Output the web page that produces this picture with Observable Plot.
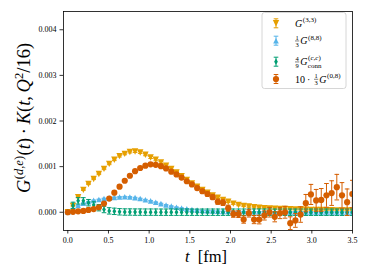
<!DOCTYPE html>
<html><head><meta charset="utf-8">
<script src="https://cdn.jsdelivr.net/npm/d3@7"></script>
<script src="https://cdn.jsdelivr.net/npm/@observablehq/plot@0.6"></script>
<style>
body{margin:0;background:#fff;}
#chart{position:relative;width:369px;height:277px;}
</style></head><body><div id="chart"></div>
<script>
// Euclidean time t [fm]
const t = [0,0.064,0.127,0.191,0.254,0.318,0.382,0.445,0.509,0.572,0.636,0.700,0.763,0.827,0.890,0.954,1.018,1.081,1.145,1.208,1.272,1.336,1.399,1.463,1.526,1.590,1.654,1.717,1.781,1.844,1.908,1.972,2.035,2.099,2.162,2.226,2.290,2.353,2.417,2.480,2.544,2.608,2.671,2.735,2.798,2.862,2.926,2.989,3.053,3.116,3.180,3.244,3.307,3.371,3.434,3.498];
// values in units of 1e-3
const unit = 1e-3;
const g33 = [0.00,0.14,0.33,0.49,0.62,0.73,0.84,0.95,1.06,1.15, 1.23,1.28,1.32,1.33,1.31,1.26,1.20,1.15,1.09,1.02, 0.95,0.87,0.79,0.71,0.63,0.56,0.49,0.43,0.37,0.32, 0.27,0.23,0.19,0.16,0.14,0.125,0.11,0.10,0.09,0.085, 0.08,0.075,0.07,0.065,0.06,0.06,0.055,0.05,0.05,0.05, 0.045,0.045,0.04,0.04,0.04,0.04];
const g33Err = [0,0.01,0.01,0.012,0.013,0.014,0.015,0.016,0.017,0.018, 0.019,0.02,0.02,0.02,0.021,0.021,0.022,0.022,0.022,0.022, 0.022,0.022,0.022,0.021,0.021,0.02,0.02,0.02,0.019,0.019, 0.018,0.018,0.017,0.017,0.016,0.016,0.015,0.015,0.015,0.014, 0.014,0.014,0.013,0.013,0.013,0.012,0.012,0.012,0.012,0.011, 0.011,0.011,0.011,0.01,0.01,0.01];
const g88 = [0.00,0.08,0.15,0.20,0.23,0.26,0.28,0.30,0.31,0.325, 0.335,0.34,0.335,0.32,0.30,0.275,0.25,0.22,0.19,0.16, 0.135,0.11,0.09,0.075,0.06,0.05,0.04,0.035,0.03,0.025, 0.02,0.02,0.015,0.015,0.015,0.01,0.01,0.01,0.01,0.01, 0.008,0.008,0.008,0.007,0.007,0.007,0.006,0.006,0.006,0.006, 0.005,0.005,0.005,0.005,0.005,0.005];
const g88Err = [0,0.008,0.008,0.008,0.008,0.008,0.008,0.008,0.008,0.008, 0.008,0.008,0.008,0.008,0.008,0.008,0.008,0.008,0.008,0.008, 0.007,0.007,0.007,0.007,0.007,0.007,0.006,0.006,0.006,0.006, 0.006,0.006,0.006,0.006,0.006,0.006,0.006,0.006,0.006,0.006, 0.006,0.006,0.006,0.006,0.006,0.006,0.006,0.006,0.006,0.006, 0.006,0.006,0.006,0.006,0.006,0.006];
const gcc = [0.00,0.15,0.25,0.25,0.21,0.16,0.10,0.06,0.03,0.02, 0.01,0.005,0.005,0.003,0.003,0.002,0.002,0.002,0.001,0.001, 0.001,0.001,0.001,0.001,0.001,0.001,0.001,0.001,0.001,0.001, 0.001,0.001,0.001,0.001,0.001,0.001,0.001,0.001,0.001,0.001, 0,0,0,0,0,0,0,0,0,0, 0,0,0,0,0,0];
const gccErr = [0,0.07,0.07,0.07,0.07,0.07,0.07,0.07,0.07,0.07, 0.07,0.07,0.07,0.07,0.07,0.07,0.07,0.07,0.07,0.07, 0.07,0.07,0.07,0.07,0.07,0.07,0.07,0.07,0.07,0.07, 0.07,0.07,0.07,0.07,0.07,0.07,0.07,0.07,0.07,0.07, 0.07,0.07,0.07,0.07,0.07,0.07,0.07,0.07,0.07,0.07, 0.07,0.07,0.07,0.07,0.07,0.07];
const g08 = [0.00,0.01,0.02,0.03,0.05,0.07,0.11,0.19,0.30,0.43, 0.56,0.69,0.80,0.90,0.97,1.02,1.05,1.04,1.01,0.96, 0.89,0.83,0.76,0.68,0.61,0.53,0.46,0.40,0.33,0.23, 0.21,0.09,-0.04,-0.04,-0.16,-0.02,-0.16,-0.16,-0.07,0.00, -0.10,-0.02,0.00,-0.24,-0.18,-0.05,0.20,0.39,0.26,0.27, 0.37,0.42,0.55,0.37,0.22,0.40];
const g08Err = [0.003,0.004,0.005,0.006,0.007,0.008,0.009,0.010,0.012,0.013, 0.015,0.016,0.018,0.020,0.021,0.022,0.024,0.025,0.027,0.028, 0.030,0.032,0.034,0.036,0.038,0.040,0.043,0.046,0.050,0.055, 0.060,0.065,0.070,0.075,0.080,0.085,0.090,0.095,0.100,0.105, 0.110,0.120,0.130,0.140,0.150,0.170,0.190,0.220,0.240,0.250, 0.260,0.270,0.280,0.280,0.290,0.300];

const xTicks = [0,0.5,1,1.5,2,2.5,3,3.5];
const yTicks = [0,0.001,0.002,0.003,0.004];

// marker shapes
const rad = s => Math.sqrt(s / Math.PI);
const triDown = {draw(c, s){const r = rad(s); c.moveTo(-r,-r); c.lineTo(r,-r); c.lineTo(0,r); c.closePath();}};
const triUp = {draw(c, s){const r = rad(s); c.moveTo(-r,r); c.lineTo(r,r); c.lineTo(0,-r); c.closePath();}};
const thinDiamond = {draw(c, s){const r = rad(s); c.moveTo(0,-r); c.lineTo(0.6*r,0); c.lineTo(0,r); c.lineTo(-0.6*r,0); c.closePath();}};
const circle = {draw(c, s){const r = rad(s); c.moveTo(r,0); c.arc(0,0,r,0,2*Math.PI);}};
const cap = {draw(c, s){const r = rad(s); c.moveTo(-r,0); c.lineTo(r,0);}};

const series = [
  {val: g33, err: g33Err, color: "#E69F00", symbol: triDown, r: 3.2},
  {val: g88, err: g88Err, color: "#56B4E9", symbol: triUp, r: 2.8},
  {val: gcc, err: gccErr, color: "#009E73", symbol: thinDiamond, r: 3.1},
  {val: g08, err: g08Err, color: "#D55E00", symbol: circle, r: 3.1}
];

const marks = [];
for (const s of series) {
  const rows = t.map((ti, i) => ({t: ti, v: s.val[i]*unit, lo: (s.val[i]-s.err[i])*unit, hi: (s.val[i]+s.err[i])*unit}));
  marks.push(Plot.ruleX(rows, {x: "t", y1: "lo", y2: "hi", stroke: s.color, strokeWidth: 1, clip: "frame"}));
  marks.push(Plot.dot(rows, {x: "t", y: "lo", symbol: cap, r: 2.3, stroke: s.color, strokeWidth: 1, fill: "none", clip: "frame"}));
  marks.push(Plot.dot(rows, {x: "t", y: "hi", symbol: cap, r: 2.3, stroke: s.color, strokeWidth: 1, fill: "none", clip: "frame"}));
  marks.push(Plot.dot(rows, {x: "t", y: "v", symbol: s.symbol, r: s.r, fill: s.color, stroke: "none", clip: "frame"}));
}

const FONT = "'Liberation Serif', 'DejaVu Serif', serif";
const plot = Plot.plot({
  width: 369, height: 277,
  marginLeft: 63, marginRight: 17, marginTop: 11, marginBottom: 47,
  style: {fontFamily: FONT, fontSize: "8px", background: "white", color: "black"},
  x: {domain: [-0.053, 3.5], label: null},
  y: {domain: [-0.0004, 0.0044], label: null},
  marks: [
    ...marks,
    Plot.frame({stroke: "black", strokeWidth: 0.8}),
    Plot.axisX({ticks: xTicks, tickFormat: d3.format(".1f"), tickSize: 3.5, tickPadding: 3, label: null, strokeWidth: 0.8}),
    Plot.axisY({ticks: yTicks, tickFormat: d3.format(".3f"), tickSize: 3.5, tickPadding: 3.5, label: null, strokeWidth: 0.8})
  ]
});
document.getElementById("chart").appendChild(plot);
const svg = d3.select(plot);

// text built from tspans: pieces {text, it, size, dy, dx}
function rich(parent, x, y, pieces, size, anchor) {
  const el = parent.append("text").attr("x", x).attr("y", y).attr("font-size", size)
    .attr("font-family", FONT).attr("fill", "black").attr("text-anchor", anchor || "start");
  for (const p of pieces) {
    const ts = el.append("tspan").text(p.text);
    if (p.it) ts.attr("font-style", "italic");
    if (p.size) ts.attr("font-size", p.size);
    if (p.dy) ts.attr("dy", p.dy);
    if (p.dx) ts.attr("dx", p.dx);
  }
  return el;
}
function frac(parent, x, y, num, den, fs) {
  const w = fs*0.5 + 1;
  parent.append("text").attr("x", x + w/2).attr("y", y - fs*0.72).attr("font-size", fs).attr("text-anchor","middle").attr("font-family", FONT).text(num);
  parent.append("text").attr("x", x + w/2).attr("y", y + fs*0.42).attr("font-size", fs).attr("text-anchor","middle").attr("font-family", FONT).text(den);
  parent.append("line").attr("x1", x).attr("x2", x + w).attr("y1", y - fs*0.5).attr("y2", y - fs*0.5).attr("stroke","black").attr("stroke-width",0.5);
  return x + w + 1;
}

// y label
{
  const fs = 18.5, sp = 12.5, up = 7.5;
  const g = svg.append("g").attr("transform", "translate(30,118) rotate(-90)");
  rich(g, 0, 0, [
    {text: "G", it: true},
    {text: "(", size: sp, dy: -up, dx: 0.5},
    {text: "d", size: sp, it: true},
    {text: ",", size: sp},
    {text: "e", size: sp, it: true},
    {text: ")", size: sp},
    {text: "(", dy: up, dx: 0.5},
    {text: "t", it: true},
    {text: ")\u2009·\u2009"},
    {text: "K", it: true},
    {text: "("},
    {text: "t", it: true},
    {text: ",\u2009"},
    {text: "Q", it: true},
    {text: "2", size: sp, dy: -up},
    {text: "/16)", dy: up}
  ], fs, "middle");
}

// x label
rich(svg, 206, 262, [{text: "t", it: true}, {text: "\u2002[fm]"}], 16.5, "middle");

// legend
{
  const lg = svg.append("g");
  lg.append("rect").attr("x", 262).attr("y", 12.5).attr("width", 84).attr("height", 76).attr("rx", 2.5)
    .attr("fill", "white").attr("fill-opacity", 0.8).attr("stroke", "#cccccc").attr("stroke-width", 0.8);
  const ys = [23.3, 40.7, 61.7, 79];
  const base = 10, sp = 7, fs = 6.5;
  series.forEach((s, i) => {
    const y = ys[i], x = 276;
    lg.append("line").attr("x1", x).attr("x2", x).attr("y1", y - 4.5).attr("y2", y + 4.5).attr("stroke", s.color).attr("stroke-width", 1);
    [-4.5, 4.5].forEach(d => lg.append("line").attr("x1", x - 2.3).attr("x2", x + 2.3).attr("y1", y + d).attr("y2", y + d).attr("stroke", s.color).attr("stroke-width", 1));
    lg.append("path").attr("transform", `translate(${x},${y})`).attr("d", d3.symbol(s.symbol, s.r*s.r*Math.PI)()).attr("fill", s.color);
  });
  // entry 1
  rich(lg, 295, ys[0] + 3.5, [{text: "G", it: true}, {text: "(3,3)", size: sp, dy: -4.5, dx: 0.6}], base);
  // entry 2
  let x2 = frac(lg, 295, ys[1] + 3.5, "1", "3", fs);
  rich(lg, x2, ys[1] + 3.5, [{text: "G", it: true}, {text: "(8,8)", size: sp, dy: -4.5, dx: 0.6}], base);
  // entry 3
  let x3 = frac(lg, 295, ys[2] + 3.5, "4", "9", fs);
  rich(lg, x3, ys[2] + 3.5, [{text: "G", it: true}, {text: "(", size: sp, dy: -4.8, dx: 0.6}, {text: "c", size: sp, it: true}, {text: ",", size: sp}, {text: "c", size: sp, it: true}, {text: ")", size: sp}], base);
  rich(lg, x3 + 7.6, ys[2] + 3.5 + 2.6, [{text: "conn"}], sp);
  // entry 4
  rich(lg, 295, ys[3] + 3.5, [{text: "10\u2009·"}], base);
  let x4 = frac(lg, 314, ys[3] + 3.5, "1", "3", fs);
  rich(lg, x4, ys[3] + 3.5, [{text: "G", it: true}, {text: "(0,8)", size: sp, dy: -4.5, dx: 0.6}], base);
}
</script>
</body></html>
